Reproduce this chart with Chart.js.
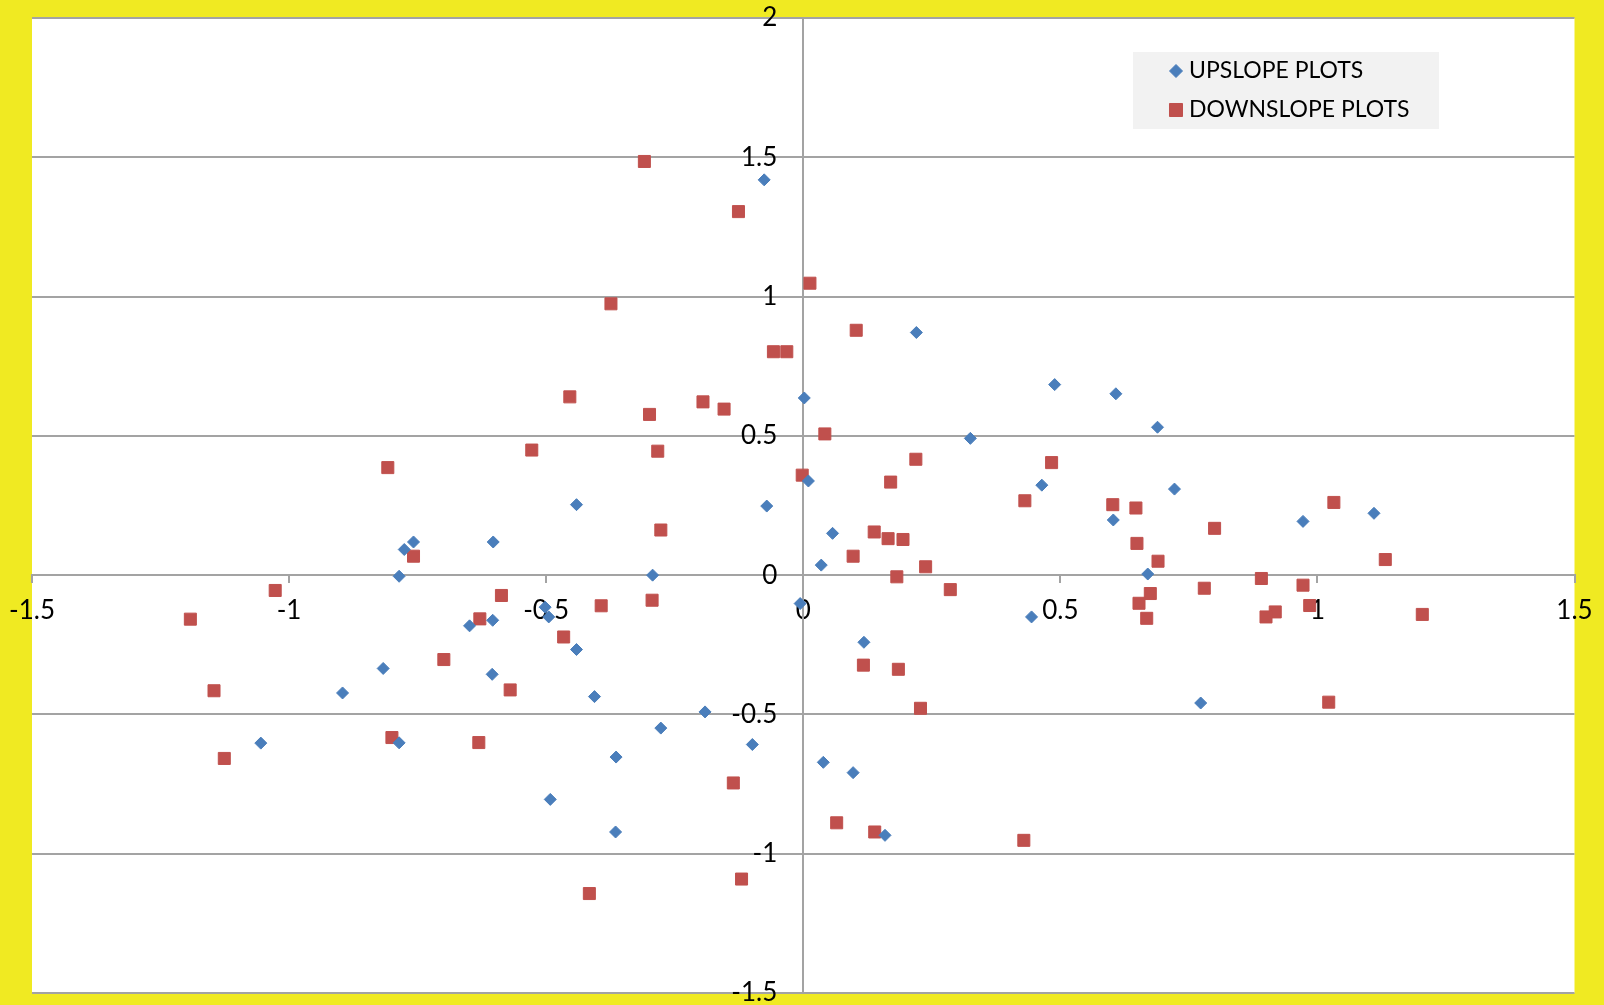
<!DOCTYPE html>
<html>
<head>
<meta charset="utf-8">
<title>Upslope / Downslope plots</title>
<script src="https://cdn.jsdelivr.net/npm/chart.js@4/dist/chart.umd.min.js"></script>
<style>
  html, body { margin: 0; padding: 0; background: #f0ea22; }
  #wrap { width: 1604px; height: 1005px; }
</style>
</head>
<body>
<div id="wrap"><canvas id="plot" width="1604" height="1005"></canvas></div>
<script>
// Series values
const seriesNames = ['UPSLOPE PLOTS', 'DOWNSLOPE PLOTS'];

const upslopeX = [
  -0.076, 0.220, 0.002, 0.489, 0.608, 0.689, 0.325, 0.464, 0.722, 0.010,
  -0.071, -0.441, 0.603, 0.972, 1.110, 0.057, 0.035, -0.758, -0.776, -0.603,
  -0.786, -0.293, 0.670, -0.006, -0.502, -0.495, -0.604, -0.649, 0.444, -0.441,
  0.118, -0.817, -0.605, -0.896, -0.406, 0.773, -0.191, -0.277, -1.055, -0.786,
  -0.099, -0.364, 0.039, 0.097, -0.492, -0.365, 0.159
];
const upslopeY = [
  1.419, 0.871, 0.636, 0.684, 0.651, 0.531, 0.491, 0.323, 0.309, 0.338,
  0.248, 0.253, 0.198, 0.193, 0.222, 0.150, 0.036, 0.119, 0.092, 0.119,
  -0.004, 0.000, 0.004, -0.102, -0.115, -0.150, -0.162, -0.182, -0.150, -0.267,
  -0.241, -0.335, -0.356, -0.423, -0.436, -0.459, -0.491, -0.549, -0.603, -0.602,
  -0.608, -0.653, -0.672, -0.709, -0.805, -0.922, -0.934
];

const downslopeX = [
  -0.309, -0.126, 0.013, -0.374, 0.103, -0.058, -0.032, -0.454, -0.195, -0.154,
  -0.299, 0.042, -0.528, -0.283, 0.219, 0.483, -0.808, -0.002, 0.170, 0.431,
  0.602, 0.647, 1.032, -0.277, 0.138, 0.800, 0.165, 0.194, 0.649, -0.758,
  0.097, 0.690, 1.132, 0.238, 0.182, 0.891, 0.972, 0.780, 0.286, -1.027,
  0.675, -0.587, 0.653, -0.393, -0.294, 0.985, 0.918, 0.900, 0.668, 1.204,
  -1.192, -0.629, -0.466, -0.699, 0.117, 0.185, -0.570, -1.146, 1.022, 0.228,
  -0.800, -0.631, -1.126, -0.136, 0.065, 0.139, 0.429, -0.120, -0.416
];
const downslopeY = [
  1.485, 1.305, 1.048, 0.974, 0.879, 0.802, 0.802, 0.640, 0.622, 0.596,
  0.577, 0.507, 0.449, 0.445, 0.416, 0.404, 0.386, 0.359, 0.334, 0.267,
  0.253, 0.241, 0.261, 0.162, 0.155, 0.168, 0.131, 0.128, 0.114, 0.068,
  0.068, 0.050, 0.056, 0.030, -0.006, -0.012, -0.036, -0.047, -0.052, -0.055,
  -0.066, -0.073, -0.101, -0.110, -0.090, -0.109, -0.132, -0.150, -0.155, -0.141,
  -0.158, -0.157, -0.222, -0.303, -0.323, -0.338, -0.412, -0.415, -0.456, -0.478,
  -0.583, -0.601, -0.658, -0.746, -0.889, -0.922, -0.952, -1.091, -1.143
];

// Axis ranges and tick labels
const xTicks = [-1.5, -1, -0.5, 0, 0.5, 1, 1.5];
const yTicks = [-1.5, -1, -0.5, 0, 0.5, 1, 1.5, 2];

const toPoints = (xs, ys) => xs.map((x, i) => ({ x: x, y: ys[i] }));

const FONT = 'Lato, "Open Sans", sans-serif';
const GRID = '#a3a3a3';

// Yellow page, white plotting area
const backdrop = {
  id: 'backdrop',
  beforeDraw(chart) {
    const { ctx, chartArea: a } = chart;
    ctx.save();
    ctx.fillStyle = '#f0ea22';
    ctx.fillRect(0, 0, chart.width, chart.height);
    ctx.fillStyle = '#ffffff';
    ctx.fillRect(a.left, a.top, a.right - a.left, a.bottom - a.top);
    ctx.restore();
  }
};

// Legend box in the upper right of the plotting area
const insetLegend = {
  id: 'insetLegend',
  afterDraw(chart) {
    const { ctx } = chart;
    const box = { x: 1133, y: 52, w: 306, h: 77 };
    const markerRadius = [6.5, 9.2];
    ctx.save();
    ctx.fillStyle = '#f2f2f2';
    ctx.fillRect(box.x, box.y, box.w, box.h);
    ctx.font = '23px ' + FONT;
    ctx.textBaseline = 'middle';
    ctx.textAlign = 'left';
    chart.data.datasets.forEach((ds, i) => {
      const cy = 71 + i * 39;
      ctx.fillStyle = ds.backgroundColor;
      ctx.strokeStyle = ds.borderColor;
      ctx.lineWidth = ds.borderWidth;
      Chart.helpers.drawPoint(ctx, {
        pointStyle: ds.pointStyle,
        rotation: 0,
        radius: markerRadius[i],
        borderWidth: ds.borderWidth
      }, 1176, cy);
      ctx.fillStyle = '#000000';
      ctx.fillText(ds.label, 1189, cy);
    });
    ctx.restore();
  }
};

function noReserve(scale) {
  if (scale.isHorizontal()) { scale.height = 0; } else { scale.width = 0; }
  scale.paddingLeft = 0; scale.paddingRight = 0;
  scale.paddingTop = 0; scale.paddingBottom = 0;
}

new Chart(document.getElementById('plot'), {
  type: 'scatter',
  data: {
    datasets: [
      {
        label: seriesNames[0],
        data: toPoints(upslopeX, upslopeY),
        pointStyle: 'rectRot',
        pointRadius: 6,
        backgroundColor: '#4a7ebb',
        borderColor: '#4a7ebb',
        borderWidth: 1
      },
      {
        label: seriesNames[1],
        data: toPoints(downslopeX, downslopeY),
        pointStyle: 'rect',
        pointRadius: 8.5,
        backgroundColor: '#c0504d',
        borderColor: '#c0504d',
        borderWidth: 1
      }
    ]
  },
  options: {
    responsive: false,
    animation: false,
    devicePixelRatio: 1,
    layout: { padding: { left: 32, top: 18, right: 29.5, bottom: 12 } },
    plugins: {
      legend: { display: false },
      tooltip: { enabled: false },
      title: { display: false }
    },
    scales: {
      x: {
        type: 'linear',
        position: { y: 0 },
        min: xTicks[0],
        max: xTicks[xTicks.length - 1],
        afterFit: noReserve,
        afterBuildTicks(scale) { scale.ticks = xTicks.map(v => ({ value: v })); },
        grid: { drawOnChartArea: false, drawTicks: true, tickLength: 7, color: GRID, lineWidth: 2 },
        border: { display: true, color: GRID, width: 2 },
        ticks: {
          autoSkip: false,
          maxRotation: 0,
          padding: 13,
          color: '#000000',
          font: { family: FONT, size: 26 },
          callback: v => String(v)
        }
      },
      y: {
        type: 'linear',
        position: 'center',
        min: yTicks[0],
        max: yTicks[yTicks.length - 1],
        afterFit: noReserve,
        afterBuildTicks(scale) { scale.ticks = yTicks.map(v => ({ value: v })); },
        grid: { drawOnChartArea: true, drawTicks: true, tickLength: 7, color: GRID, lineWidth: 2 },
        border: { display: true, color: GRID, width: 2 },
        ticks: {
          autoSkip: false,
          padding: 19,
          color: '#000000',
          font: { family: FONT, size: 26 },
          callback: v => String(v)
        }
      }
    }
  },
  plugins: [backdrop, insetLegend]
});
</script>
</body>
</html>
